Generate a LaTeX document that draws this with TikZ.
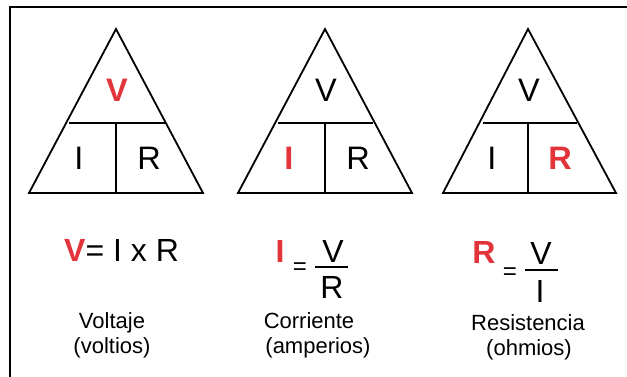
\documentclass[tikz,border=0pt]{standalone}
\usepackage{fontspec}
\setmainfont{Liberation Sans}
\definecolor{ohmred}{RGB}{226,52,58}
\begin{document}
\begin{tikzpicture}[x=1pt,y=-1pt,
  tri/.style={draw=black,line width=1.8pt,line join=miter},
  cell/.style={draw=black,line width=1.8pt},
  big/.style={inner sep=0pt,anchor=base,font=\fontsize{32.5}{36}\selectfont},
  eq/.style={inner sep=0pt,anchor=base,font=\fontsize{32}{34}\selectfont},
  small/.style={inner sep=0pt,anchor=base,font=\fontsize{24}{26}\selectfont},
  lab/.style={inner sep=0pt,anchor=base,align=center,font=\fontsize{22}{25}\selectfont},
  hi/.style={text=ohmred,font=\fontsize{32.5}{36}\selectfont\bfseries}]
\useasboundingbox (0,0) rectangle (627,377);
\fill[white] (0,0) rectangle (627,377);
\draw[line width=1.8pt] (10,400) -- (10,7) -- (640,7);
% triangle 1
\coordinate (a1) at (116,29);
\coordinate (b1l) at (29,193);
\coordinate (b1r) at (203,193);
\coordinate (m1l) at (69,123);
\coordinate (m1r) at (166,123);
\coordinate (m1c) at (116,123);
\coordinate (m1b) at (116,193);
\draw[tri] (a1) -- (b1r) -- (b1l) -- cycle;
\draw[cell] (m1l) -- (m1r) (m1c) -- (m1b);
\node[big,hi] (v1) at (117,102) {V};
\node[big] (i1) at (79,170) {I};
\node[big] (r1) at (149,170) {R};
% triangle 2
\coordinate (a2) at (325,29);
\coordinate (b2l) at (238,193);
\coordinate (b2r) at (412,193);
\coordinate (m2l) at (278,123);
\coordinate (m2r) at (373,123);
\coordinate (m2c) at (325,123);
\coordinate (m2b) at (325,193);
\draw[tri] (a2) -- (b2r) -- (b2l) -- cycle;
\draw[cell] (m2l) -- (m2r) (m2c) -- (m2b);
\node[big] (v2) at (326,102) {V};
\node[big,hi] (i2) at (289,170) {I};
\node[big] (r2) at (358,170) {R};
% triangle 3
\coordinate (a3) at (528,29);
\coordinate (b3l) at (443,193);
\coordinate (b3r) at (616,193);
\coordinate (m3l) at (483,123);
\coordinate (m3r) at (577,123);
\coordinate (m3c) at (528,123);
\coordinate (m3b) at (528,193);
\draw[tri] (a3) -- (b3r) -- (b3l) -- cycle;
\draw[cell] (m3l) -- (m3r) (m3c) -- (m3b);
\node[big] (v3) at (529,102) {V};
\node[big] (i3) at (492,170) {I};
\node[big,hi] (r3) at (560,170) {R};
% equation 1
\node[eq,anchor=base west] (e1) at (64,261) {\textcolor{ohmred}{\bfseries V}= I x R};
% equation 2
\node[eq,hi,font=\fontsize{32}{34}\selectfont\bfseries] (e2i) at (280,262) {I};
\node[small] (e2eq) at (300,274) {=};
\coordinate (f2l) at (315,267);
\coordinate (f2r) at (348,267);
\draw[line width=1.6pt] (f2l) -- (f2r);
\node[eq] (e2v) at (333,262) {V};
\node[eq] (e2r) at (332,298) {R};
% equation 3
\node[eq,hi,font=\fontsize{32}{34}\selectfont\bfseries] (e3r) at (484,263) {R};
\node[small] (e3eq) at (510,279) {=};
\coordinate (f3l) at (525,270);
\coordinate (f3r) at (558,270);
\draw[line width=1.6pt] (f3l) -- (f3r);
\node[eq] (e3v) at (541,265) {V};
\node[eq] (e3i) at (540,302) {I};
% labels
\node[lab] (l1a) at (112,328) {Voltaje};
\node[lab] (l1b) at (112,353) {(voltios)};
\node[lab] (l2a) at (309,328) {Corriente};
\node[lab] (l2b) at (318,353) {(amperios)};
\node[lab] (l3a) at (528,330) {Resistencia};
\node[lab] (l3b) at (529,355) {(ohmios)};
\end{tikzpicture}
\end{document}
